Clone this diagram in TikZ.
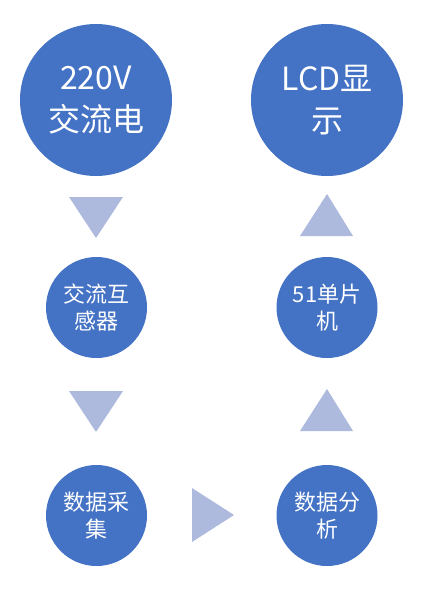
\documentclass[tikz,border=0pt]{standalone}
\usepackage{fontspec}
\setmainfont{Noto Sans CJK SC}
\usetikzlibrary{positioning}
\definecolor{StepBlue}{HTML}{4472C4}
\definecolor{TriLight}{HTML}{AEBADD}
\tikzset{
  bigstage/.style={
    circle,
    fill=StepBlue,
    draw=none,
    minimum size=152pt,
    inner sep=0pt,
    align=center,
    text=white,
    font=\fontsize{32}{42}\selectfont
  },
  smallstage/.style={
    bigstage,
    minimum size=101pt,
    font=\fontsize{22}{27}\selectfont
  },
  flowtri/.style={fill=TriLight,draw=none}
}
\begin{document}
\begin{tikzpicture}[x=1pt,y=-1pt]
  \useasboundingbox (0,0) rectangle (432,607);
  \node[bigstage] (power) at (96,100) {220V\\交流电};
  \node[bigstage] (lcd) at (327,100) {LCD显\\示};
  \node[smallstage] (ct) at (96.5,307.5) {交流互\\感器};
  \node[smallstage] (mcu) at (327,307.5) {51单片\\机};
  \node[smallstage] (sample) at (96.5,515.5) {数据采\\集};
  \node[smallstage] (analyse) at (327,515.5) {数据分\\析};

  % flow markers
  \fill[flowtri] (69,197) -- (123,197) -- (96,238) -- cycle;
  \fill[flowtri] (69,391) -- (123,391) -- (96,432) -- cycle;
  \fill[flowtri] (192,488) -- (234,515) -- (192,542) -- cycle;
  \fill[flowtri] (300,431) -- (353,431) -- (327,389) -- cycle;
  \fill[flowtri] (300,236) -- (353,236) -- (327,194) -- cycle;
\end{tikzpicture}
\end{document}
